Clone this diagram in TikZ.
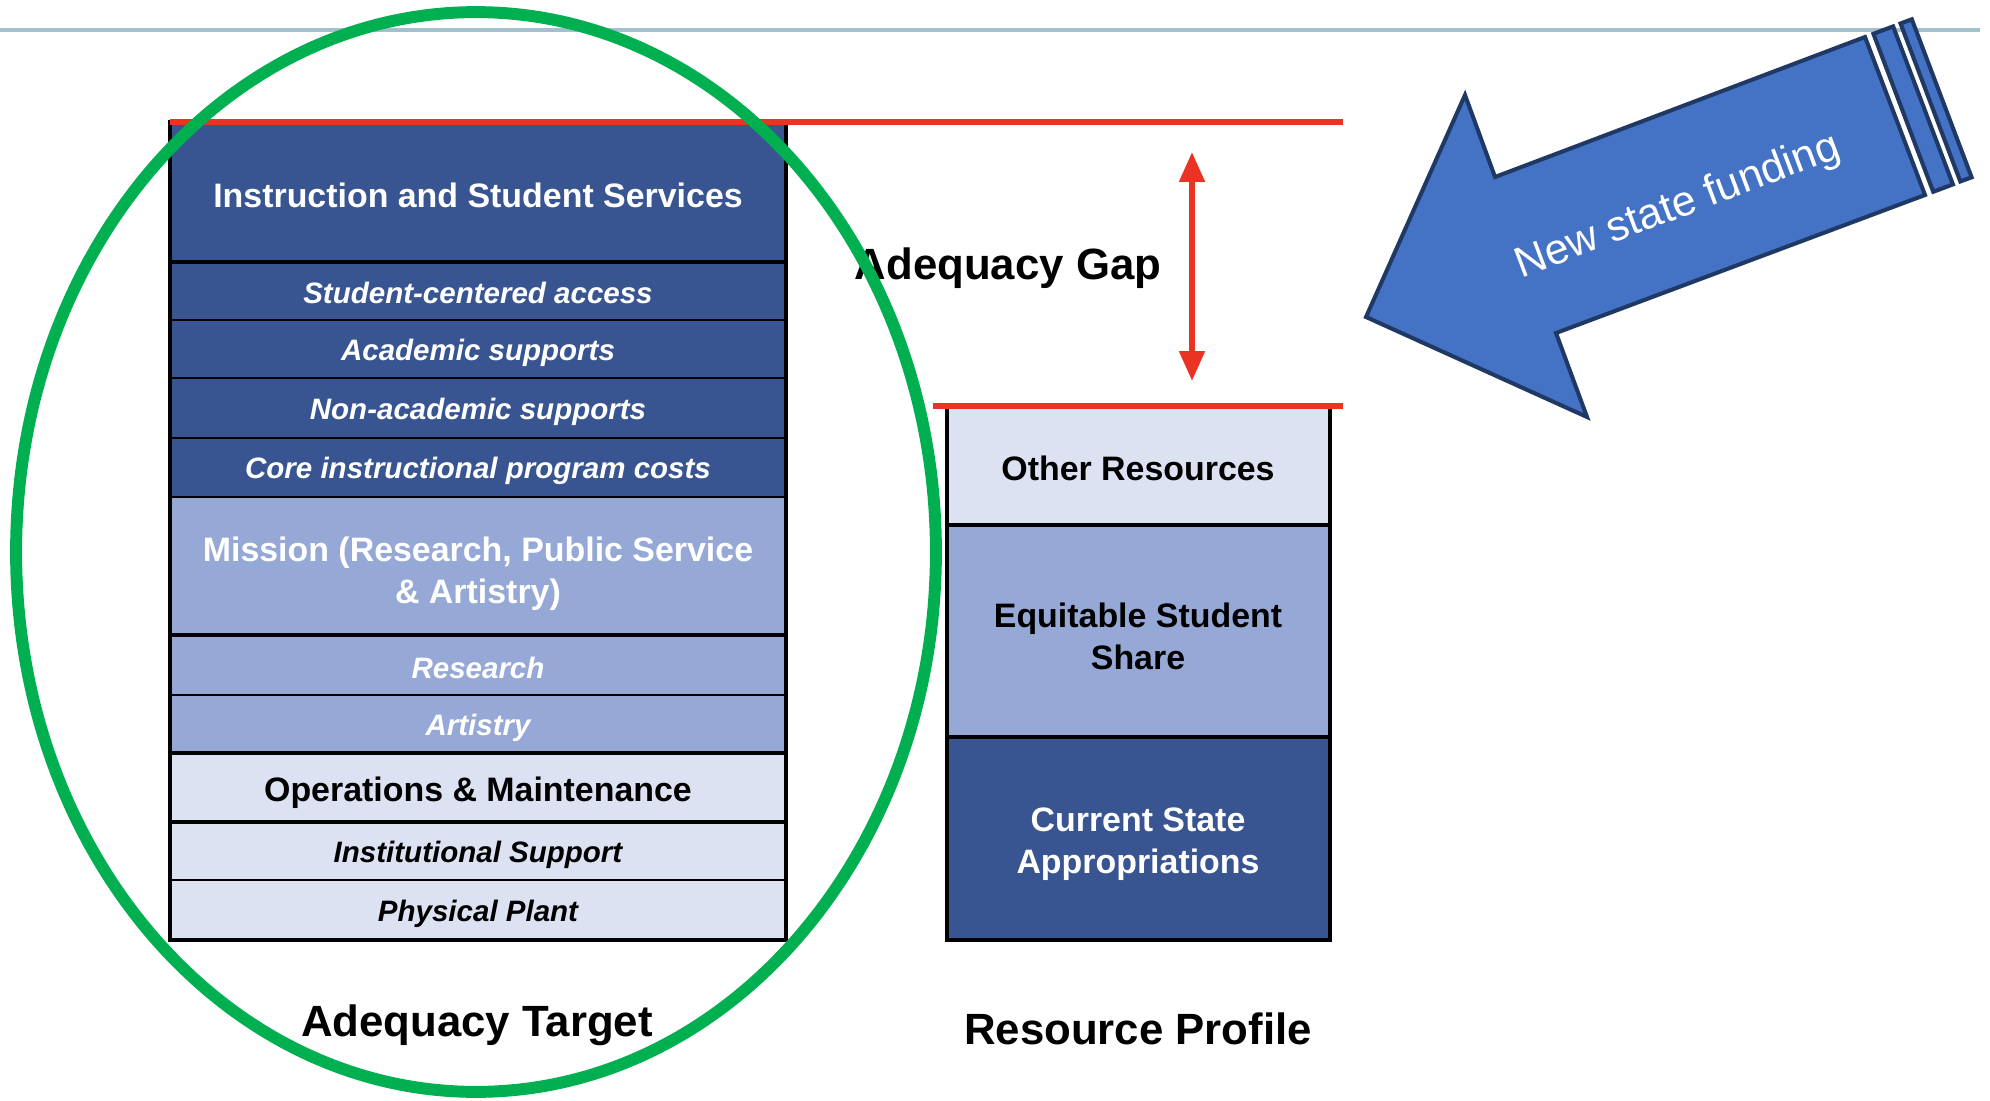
\documentclass[tikz,border=0pt]{standalone}
\usepackage{fontspec}
\setmainfont{Liberation Sans}
\usetikzlibrary{arrows.meta}

\definecolor{navy}{RGB}{57,85,145}
\definecolor{midblue}{RGB}{149,168,214}
\definecolor{paleblue}{RGB}{220,226,242}
\definecolor{arrowblue}{RGB}{68,114,196}
\definecolor{arrowedge}{RGB}{31,56,100}
\definecolor{gapred}{RGB}{234,51,35}
\definecolor{ringgreen}{RGB}{0,176,80}
\definecolor{rulegray}{RGB}{165,192,205}

\tikzset{
  headtxt/.style={font=\fontsize{19.3}{23.8}\selectfont\bfseries, align=center},
  subtxt/.style={font=\fontsize{16.8}{20}\selectfont\bfseries\itshape},
  captxt/.style={font=\fontsize{24.9}{30}\selectfont\bfseries},
  thinsep/.style={line width=1.4pt},
  thicksep/.style={line width=2.8pt},
  bigarrow/.style={fill=arrowblue, draw=arrowedge, line width=2.3pt, line join=miter},
}

\begin{document}
\begin{tikzpicture}[x=0.02cm, y=-0.02cm]
 \useasboundingbox (0,0) rectangle (1990,1101);
 \draw[rulegray, line width=2.3pt] (0,30) -- (1980,30);

 % adequacy target stack
 \fill[navy] (170,122) rectangle (786,497);
 \fill[midblue] (170,497) rectangle (786,753);
 \fill[paleblue] (170,753) rectangle (786,940);
 \draw[thicksep] (170,262) -- (786,262);
 \draw[thinsep] (170,320) -- (786,320);
 \draw[thinsep] (170,378) -- (786,378);
 \draw[thinsep] (170,438) -- (786,438);
 \draw[thinsep] (170,497) -- (786,497);
 \draw[thicksep] (170,635) -- (786,635);
 \draw[thinsep] (170,695) -- (786,695);
 \draw[line width=2pt] (170,753) -- (786,753);
 \draw[thicksep] (170,822) -- (786,822);
 \draw[thinsep] (170,880) -- (786,880);
 \draw[thicksep] (170,122) rectangle (786,940);

 \node[headtxt, white] (isss) at (478,195) {Instruction and Student Services};
 \node[subtxt, white] (stuaccess) at (478,293) {Student-centered access};
 \node[subtxt, white] (acadsup) at (478,353) {Academic supports};
 \node[subtxt, white] (nonacad) at (478,412) {Non-academic supports};
 \node[subtxt, white] (coreprog) at (478,471) {Core instructional program costs};
 \node[headtxt, white] (mission) at (478,574) {Mission (Research, Public Service\\\& Artistry)};
 \node[subtxt, white] (research) at (478,668) {Research};
 \node[subtxt, white] (artistry) at (478,728) {Artistry};
 \node[headtxt] (opsmaint) at (478,793) {Operations \& Maintenance};
 \node[subtxt] (instsup) at (478,855) {Institutional Support};
 \node[subtxt] (physplant) at (478,914) {Physical Plant};

 % resource profile stack
 \fill[paleblue] (947,406) rectangle (1330,525);
 \fill[midblue] (947,525) rectangle (1330,737);
 \fill[navy] (947,737) rectangle (1330,940);
 \draw[thicksep] (947,525) -- (1330,525);
 \draw[thicksep] (947,737) -- (1330,737);
 \draw[thicksep] (947,406) rectangle (1330,940);

 \node[headtxt] (otherres) at (1138,468) {Other Resources};
 \node[headtxt] (equshare) at (1138,636) {Equitable Student\\Share};
 \node[headtxt, white] (stateapp) at (1138,844) {Current State\\Appropriations};

 % gap between the two tops
 \draw[gapred, line width=3.4pt] (170,122) -- (1343,122);
 \draw[gapred, line width=3.4pt] (933,406) -- (1343,406);
 \coordinate (gaptop) at (1192,152);
 \coordinate (gapbot) at (1192,381);
 \draw[gapred, line width=3.4pt, {Triangle[width=14pt,length=17pt]}-{Triangle[width=14pt,length=17pt]}] (gaptop) -- (gapbot);
 \node[captxt] (gaplabel) at (1008,268) {Adequacy Gap};

 \node[captxt] (targetlabel) at (477,1025) {Adequacy Target};
 \node[captxt] (profilelabel) at (1138,1029) {Resource Profile};

 % new funding arrow
 \draw[bigarrow] (1366,317) -- (1465,95) -- (1495,177) -- (1865,37) -- (1925,195) -- (1556,333) -- (1587,417) -- cycle;
 \draw[bigarrow] (1873.4,33.8) -- (1893.1,26.4) -- (1952.9,184.4) -- (1933.2,191.8) -- cycle;
 \draw[bigarrow] (1900.5,23.5) -- (1911.8,19.3) -- (1971.6,177.3) -- (1960.3,181.5) -- cycle;
 \node[white, rotate=20.7, font=\fontsize{24.4}{28}\selectfont] (fundlabel) at (1678,207) {New state funding};

 \draw[ringgreen, line width=6.8pt] (476,552) ellipse [x radius=9.2cm, y radius=10.8cm];
\end{tikzpicture}
\end{document}
